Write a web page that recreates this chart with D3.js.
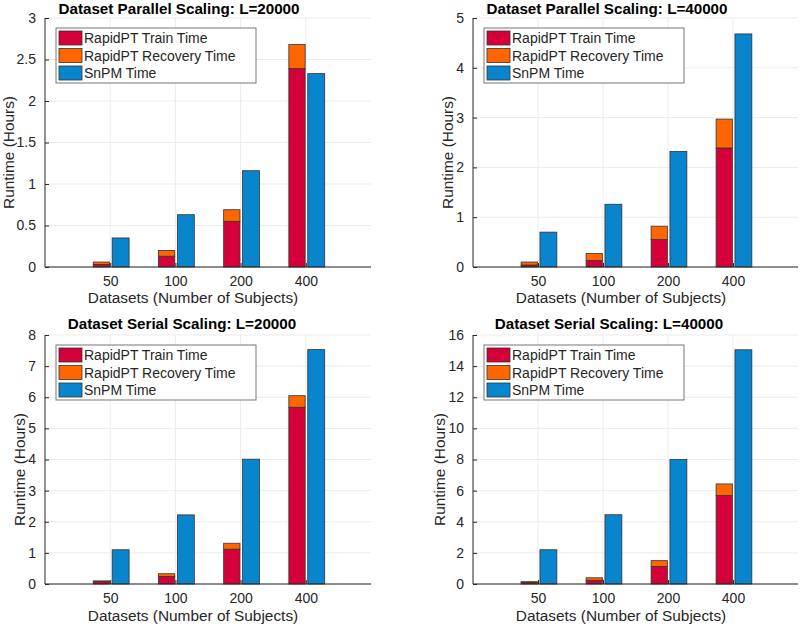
<!DOCTYPE html>
<html><head><meta charset="utf-8">
<script src="https://cdn.jsdelivr.net/npm/d3@7"></script>
<style>body{margin:0;background:#fff}svg{display:block}text{font-family:"Liberation Sans",Arial,sans-serif}</style>
</head><body><svg id="c" width="800" height="626"></svg>
<script>
const categories = ["50", "100", "200", "400"];
const seriesNames = ["RapidPT Train Time", "RapidPT Recovery Time", "SnPM Time"];
const titles = ["Dataset Parallel Scaling: L=20000", "Dataset Parallel Scaling: L=40000",
                "Dataset Serial Scaling: L=20000", "Dataset Serial Scaling: L=40000"];
// Train time (hours)
const train = [[0.03, 0.13, 0.55, 2.39], [0.04, 0.13, 0.55, 2.39],
               [0.08, 0.24, 1.12, 5.68], [0.10, 0.24, 1.12, 5.68]];
// Recovery time (hours), stacked on train
const recovery = [[0.03, 0.07, 0.14, 0.29], [0.06, 0.14, 0.27, 0.58],
                  [0.02, 0.09, 0.19, 0.37], [0.05, 0.16, 0.38, 0.75]];
// SnPM time (hours)
const snpm = [[0.35, 0.63, 1.16, 2.33], [0.70, 1.26, 2.32, 4.68],
              [1.10, 2.22, 4.01, 7.53], [2.20, 4.45, 8.00, 15.05]];
const yMax = [3, 5, 8, 16];
const yTicks = [[0, 0.5, 1, 1.5, 2, 2.5, 3], [0, 1, 2, 3, 4, 5],
                [0, 1, 2, 3, 4, 5, 6, 7, 8], [0, 2, 4, 6, 8, 10, 12, 14, 16]];
const xLabel = "Datasets (Number of Subjects)";
const yLabel = "Runtime (Hours)";

const colors = ["#d5003a", "#ff6600", "#0885cc"];
const svg = d3.select("#c");
const panels = [
  {left: 45, right: 371, top: 18, bottom: 267, titleX: 179, titleY: 14, ylabX: 8, xtY: 286, xlY: 303},
  {left: 473, right: 798, top: 18, bottom: 267, titleX: 607, titleY: 14, ylabX: 447, xtY: 286, xlY: 303},
  {left: 45, right: 371, top: 335, bottom: 584, titleX: 182, titleY: 329, ylabX: 19, xtY: 603, xlY: 621},
  {left: 473, right: 798, top: 335, bottom: 584, titleX: 609, titleY: 329, ylabX: 439, xtY: 603, xlY: 621}
];
const axisCol = "#262626";

panels.forEach((p, i) => {
  const g = svg.append("g");
  const x = d3.scaleLinear().domain([0, categories.length + 1]).range([p.left, p.right]);
  const y = d3.scaleLinear().domain([0, yMax[i]]).range([p.bottom, p.top]);
  // grid
  g.selectAll(".gy").data(yTicks[i]).join("line")
    .attr("x1", p.left).attr("x2", p.right).attr("y1", d => y(d)).attr("y2", d => y(d))
    .attr("stroke", "#ebebeb").attr("stroke-width", 1);
  g.selectAll(".gx").data(categories).join("line")
    .attr("x1", (d, j) => x(j + 1)).attr("x2", (d, j) => x(j + 1)).attr("y1", p.top).attr("y2", p.bottom)
    .attr("stroke", "#ebebeb").attr("stroke-width", 1);
  // bars
  categories.forEach((c, j) => {
    const x0 = x(j + 1 - 0.26), x1 = x(j + 1 - 0.01);
    const b0 = x(j + 1 + 0.03), b1 = x(j + 1 + 0.29);
    const t = train[i][j], r = recovery[i][j], s = snpm[i][j];
    g.append("rect").attr("x", x0).attr("width", x1 - x0).attr("y", y(t)).attr("height", y(0) - y(t))
      .attr("fill", colors[0]).attr("stroke", "#333").attr("stroke-width", 0.8);
    g.append("rect").attr("x", x0).attr("width", x1 - x0).attr("y", y(t + r)).attr("height", y(t) - y(t + r))
      .attr("fill", colors[1]).attr("stroke", "#333").attr("stroke-width", 0.8);
    g.append("rect").attr("x", b0).attr("width", b1 - b0).attr("y", y(s)).attr("height", y(0) - y(s))
      .attr("fill", colors[2]).attr("stroke", "#333").attr("stroke-width", 0.8);
  });
  // axes
  const ya = d3.axisLeft(y).tickValues(yTicks[i]).tickSize(-4).tickPadding(9).tickFormat(d3.format("~g"));
  const yg = g.append("g").attr("transform", `translate(${p.left},0)`).call(ya);
  const xa = d3.axisBottom(x).tickValues(categories.map((c, j) => j + 1)).tickSize(-4).tickPadding(14)
    .tickFormat((d) => categories[d - 1]);
  const xg = g.append("g").attr("transform", `translate(0,${p.bottom})`).call(xa);
  [yg, xg].forEach(a => {
    a.selectAll(".tick line").attr("stroke", axisCol);
    a.selectAll("text").attr("fill", axisCol).attr("font-size", 14).attr("font-family", '"Liberation Sans",Arial,sans-serif');
  });
  yg.select(".domain").remove();
  xg.select(".domain").remove();
  g.append("line").attr("x1", p.left).attr("x2", p.left).attr("y1", p.top).attr("y2", p.bottom).attr("stroke", axisCol);
  g.append("line").attr("x1", p.left).attr("x2", p.right).attr("y1", p.bottom).attr("y2", p.bottom).attr("stroke", axisCol);
  xg.selectAll("text").attr("y", null).attr("dy", null).attr("transform", `translate(0,${p.xtY - p.bottom})`);
  // labels
  g.append("text").attr("x", p.titleX).attr("y", p.titleY).attr("text-anchor", "middle")
    .attr("font-weight", "bold").attr("font-size", 15.2).attr("fill", "#000").text(titles[i]);
  g.append("text").attr("x", p.left + 148).attr("y", p.xlY).attr("text-anchor", "middle")
    .attr("font-size", 15.4).attr("fill", axisCol).text(xLabel);
  g.append("text").attr("transform", `translate(${p.ylabX},${(p.top + p.bottom) / 2 + 10}) rotate(-90)`)
    .attr("text-anchor", "middle").attr("dominant-baseline", "central")
    .attr("font-size", 15.4).attr("fill", axisCol).text(yLabel);
  // legend
  const lx = p.left + 11, ly = p.top + 10;
  g.append("rect").attr("x", lx).attr("y", ly).attr("width", 200).attr("height", 55)
    .attr("fill", "#fff").attr("stroke", "#777").attr("stroke-width", 1);
  seriesNames.forEach((nm, k) => {
    g.append("rect").attr("x", lx + 3).attr("y", ly + 3 + k * 17.5).attr("width", 23).attr("height", 14)
      .attr("fill", colors[k]).attr("stroke", "#333").attr("stroke-width", 0.8);
    g.append("text").attr("x", lx + 28).attr("y", ly + 15 + k * 17.5).attr("font-size", 14)
      .attr("fill", axisCol).text(nm);
  });
});
</script></body></html>
